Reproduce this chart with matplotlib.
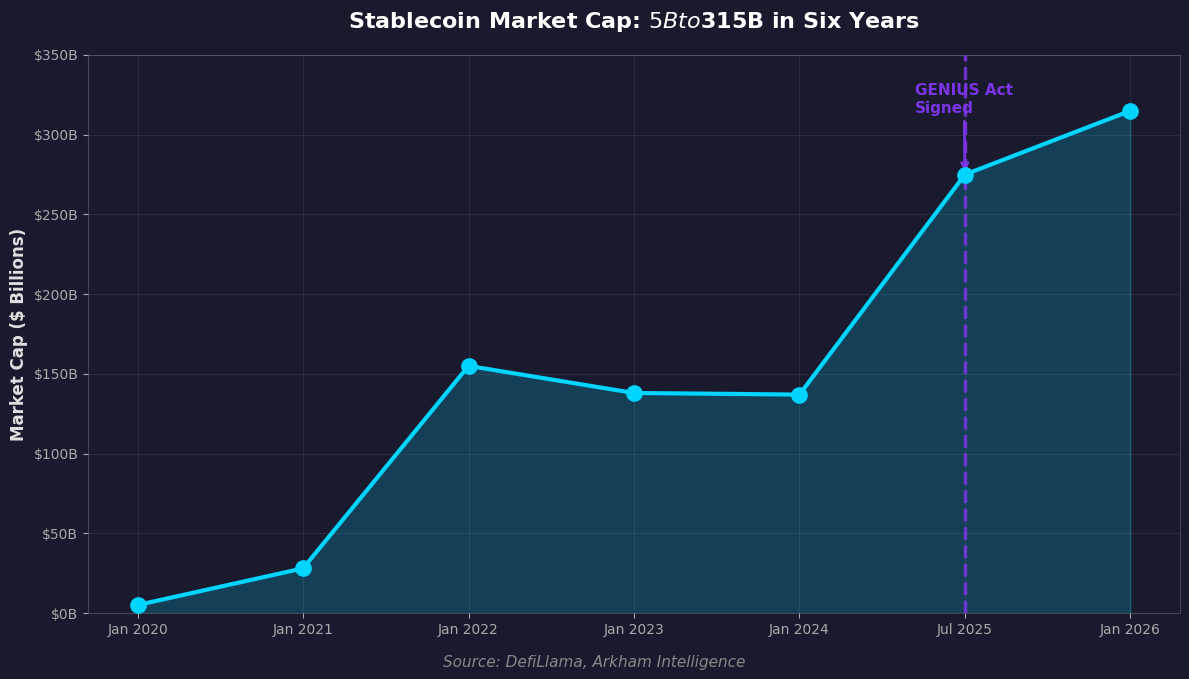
import matplotlib.pyplot as plt

# Data
dates = ['Jan 2020', 'Jan 2021', 'Jan 2022', 'Jan 2023', 'Jan 2024', 'Jul 2025', 'Jan 2026']
market_cap = [5, 28, 155, 138, 137, 275, 315]
yticks = [0, 50, 100, 150, 200, 250, 300, 350]
genius_idx = 5

bg = '#1a1a2e'
line_col = '#00d4ff'
purple = '#7b35e6'

fig = plt.figure(figsize=(11.89, 6.79), dpi=100, facecolor=bg)
ax = fig.add_axes([0.074, 0.0972, 0.9184, 0.8218])
ax.set_facecolor(bg)

x = list(range(len(dates)))
ax.fill_between(x, market_cap, color=line_col, alpha=0.2, zorder=2)
ax.plot(x, market_cap, color=line_col, linewidth=3, marker='o', markersize=11, zorder=4)

# GENIUS Act line + annotation
ax.axvline(genius_idx, color=purple, linestyle='--', linewidth=2.5, alpha=0.85, zorder=3)
ax.annotate('GENIUS Act\nSigned', xy=(genius_idx, market_cap[genius_idx]),
            xytext=(4.7, 322), ha='left', va='center', color=purple,
            fontsize=11, fontweight='bold',
            arrowprops=dict(arrowstyle='->', color=purple, lw=2))

ax.set_xlim(-0.3, 6.3)
ax.set_ylim(0, 350)
ax.set_xticks(x)
ax.set_xticklabels(dates)
ax.set_yticks(yticks)
ax.set_yticklabels([f'${v}B' for v in yticks])
ax.tick_params(colors='#aaaaaa', labelsize=10)
ax.grid(True, color='white', alpha=0.07, linewidth=0.8)
ax.set_axisbelow(False)
for s in ax.spines.values():
    s.set_color('#444455')

ax.set_ylabel('Market Cap ($ Billions)', color='#e0e0e0', fontsize=12, fontweight='bold')
ax.set_title('Stablecoin Market Cap: $5B to $315B in Six Years', color='white',
             fontsize=16, fontweight='bold', pad=19.5)
fig.text(0.5, 0.018, 'Source: DefiLlama, Arkham Intelligence', color='#888888',
         fontsize=11, style='italic', ha='center')

plt.savefig('out.png', facecolor=bg)
